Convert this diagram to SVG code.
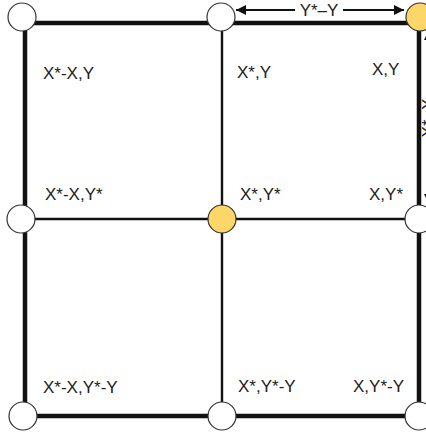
<svg xmlns="http://www.w3.org/2000/svg" width="426" height="433" viewBox="0 0 426 433">
<style>
.thick{stroke:#111;stroke-width:4.5;fill:none}
.thin{stroke:#111;stroke-width:2.4;fill:none}
.node{stroke:#333;stroke-width:1.2;fill:#fff}
.hl{fill:#fdd66a}
.lbl{font-family:"Liberation Sans",Arial,sans-serif;font-size:17px;fill:#222}
.arr{stroke:#111;stroke-width:2;fill:none}
</style>
<defs>
<marker id="ah" viewBox="0 0 10 10" refX="10" refY="5" markerWidth="6" markerHeight="5" orient="auto-start-reverse" markerUnits="strokeWidth">
<path d="M0,0 L10,5 L0,10 z" fill="#111"/>
</marker>
</defs>
<rect width="426" height="433" fill="#fff"/>
<g id="connectors">
<line class="thin" x1="222" y1="23" x2="222" y2="416"/>
<line class="thin" x1="25" y1="219" x2="419" y2="219"/>
<path class="thick" d="M25,23 H419 V416 H25 Z"/>
<line class="arr" x1="236" y1="10" x2="404" y2="10" marker-start="url(#ah)" marker-end="url(#ah)"/>
<rect x="295" y="1" width="48" height="18" fill="#fff"/>
<text class="lbl" x="319" y="16" text-anchor="middle">Y*–Y</text>
<line class="arr" x1="429" y1="30" x2="429" y2="204" marker-start="url(#ah)" marker-end="url(#ah)"/>
<text class="lbl" x="0" y="0" text-anchor="middle" transform="translate(434,118) rotate(-90)">X*–X</text>
</g>
<g id="n-tl"><circle class="node" cx="22" cy="17" r="14"/><text class="lbl" x="43" y="79">X*-X,Y</text></g>
<g id="n-tm"><circle class="node" cx="221" cy="17" r="14"/><text class="lbl" x="237" y="78">X*,Y</text></g>
<g id="n-tr"><circle class="node hl" cx="420" cy="17" r="14"/><text class="lbl" x="372" y="75">X,Y</text></g>
<g id="n-ml"><circle class="node" cx="21" cy="219" r="14"/><text class="lbl" x="45" y="200">X*-X,Y*</text></g>
<g id="n-mm"><circle class="node hl" cx="222" cy="219" r="14"/><text class="lbl" x="240" y="200">X*,Y*</text></g>
<g id="n-mr"><circle class="node" cx="419" cy="219" r="14"/><text class="lbl" x="369" y="200">X,Y*</text></g>
<g id="n-bl"><circle class="node" cx="23" cy="416" r="14"/><text class="lbl" x="43" y="393">X*-X,Y*-Y</text></g>
<g id="n-bm"><circle class="node" cx="222" cy="416" r="14"/><text class="lbl" x="238" y="392">X*,Y*-Y</text></g>
<g id="n-br"><circle class="node" cx="419" cy="416" r="14"/><text class="lbl" x="353" y="392">X,Y*-Y</text></g>
</svg>
